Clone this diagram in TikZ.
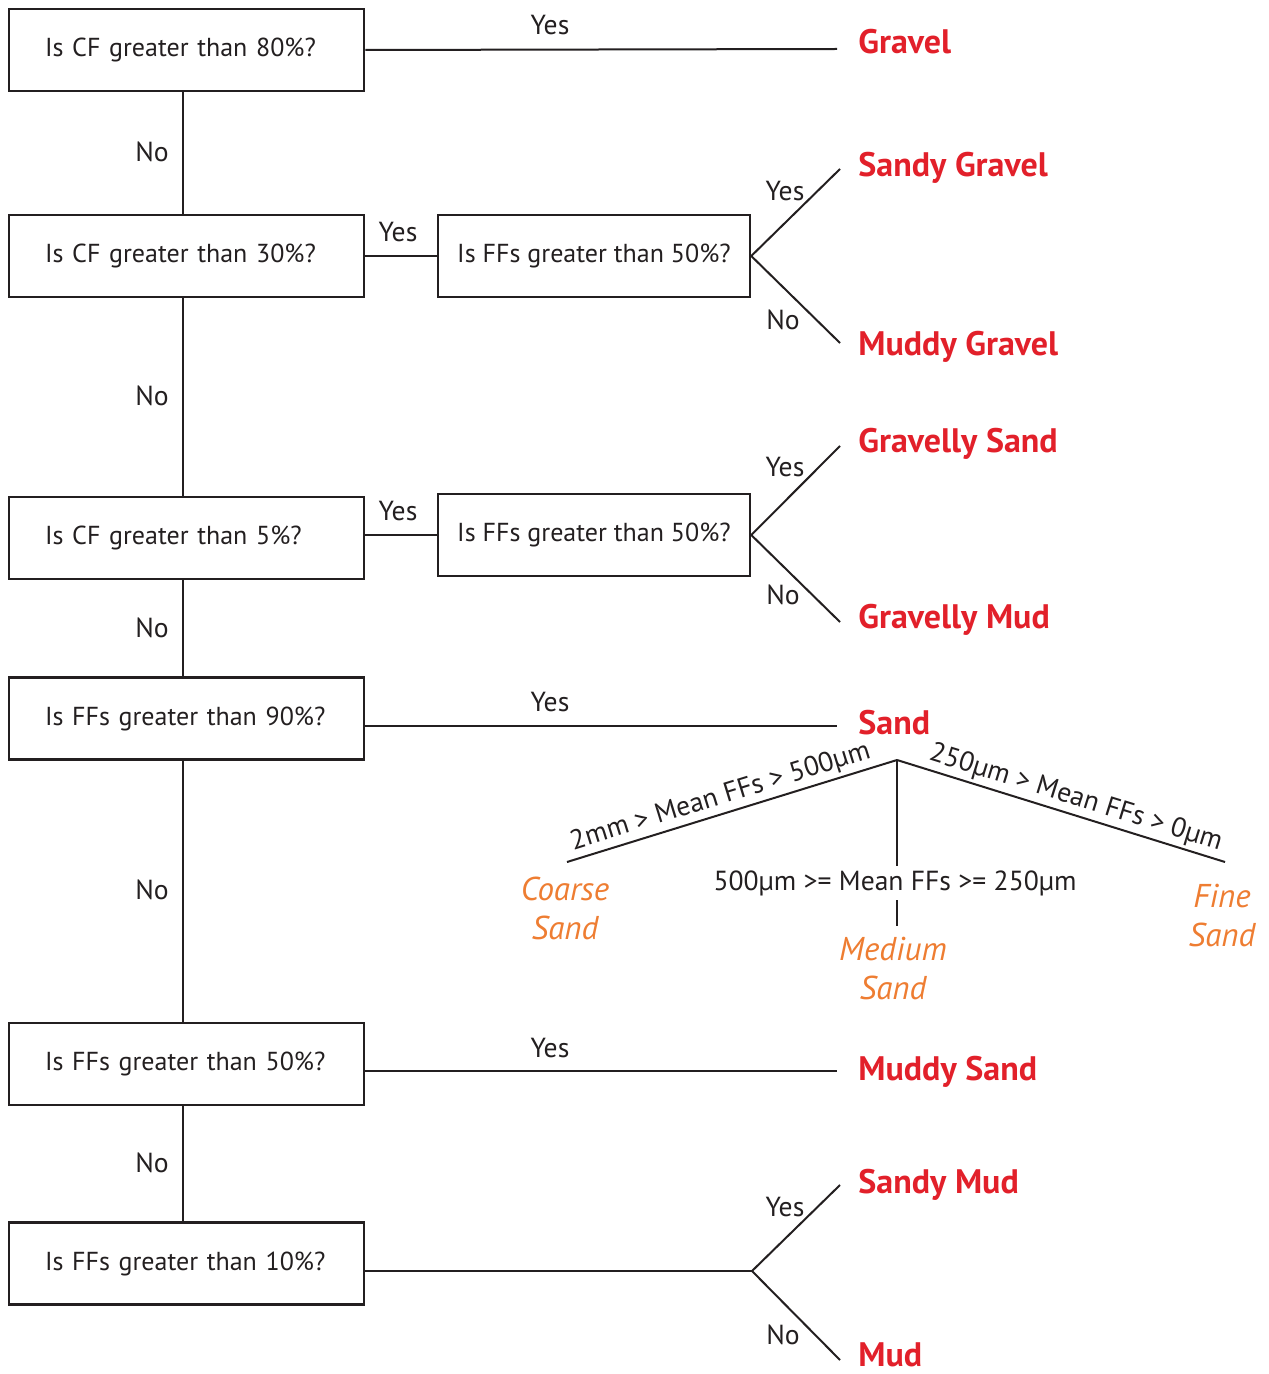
\documentclass[tikz,border=0pt]{standalone}
\usepackage{fontspec}
\setmainfont{PT Sans}
\definecolor{resred}{HTML}{E2202A}
\definecolor{resorange}{HTML}{EE7D32}
\definecolor{ink}{HTML}{231F20}
\tikzset{
  qbox/.style={draw=ink, line width=1.25pt, minimum width=177.5pt, minimum height=41pt,
    inner xsep=18pt, text width=141.5pt, align=left, text=ink, font=\fontsize{13}{15}\selectfont},
  rbox/.style={draw=ink, line width=1.25pt, minimum width=156pt, minimum height=41pt,
    inner sep=0pt, text=ink, font=\fontsize{13}{15}\selectfont},
  conn/.style={draw=ink, line width=1pt},
  lbl/.style={text=ink, font=\fontsize{13.8}{16}\selectfont, inner sep=1pt},
  res/.style={text=resred, font=\bfseries\fontsize{17}{19}\selectfont, anchor=base west, inner sep=0pt},
  sub/.style={text=resorange, font=\itshape\fontsize{16.5}{19.5}\selectfont, align=center, inner sep=0pt},
}
\begin{document}
\begin{tikzpicture}[x=0.5pt,y=-0.5pt]
\useasboundingbox (0,0) rectangle (1268,1374);

% question boxes
\node[qbox] (q1) at (186.5,50)   {Is CF greater than 80\%?};
\node[qbox] (q2) at (186.5,256)  {Is CF greater than 30\%?};
\node[qbox] (q3) at (186.5,538)  {Is CF greater than 5\%?};
\node[qbox] (q4) at (186.5,718.5){Is FFs greater than 90\%?};
\node[qbox] (q5) at (186.5,1064) {Is FFs greater than 50\%?};
\node[qbox] (q6) at (186.5,1263.5){Is FFs greater than 10\%?};
\node[rbox] (r2) at (594,256) {Is FFs greater than 50\%?};
\node[rbox] (r3) at (594,535) {Is FFs greater than 50\%?};

% results
\node[res] (gravel)  at (858,54)  {Gravel};
\node[res] (sgravel) at (858,177) {Sandy Gravel};
\node[res] (mgravel) at (858,355) {Muddy Gravel};
\node[res] (gsand)   at (858,452) {Gravelly Sand};
\node[res] (gmud)    at (858,628) {Gravelly Mud};
\node[res] (sand)    at (858,734) {Sand};
\node[res] (msand)   at (858,1080){Muddy Sand};
\node[res] (smud)    at (858,1193){Sandy Mud};
\node[res] (mud)     at (858,1366){Mud};

% free ends
\coordinate (e1) at (837,49);
\coordinate (e4) at (837,726);
\coordinate (e5) at (837,1071);
\coordinate (t6) at (752,1271);
\coordinate (t2a) at (840,169);
\coordinate (t2b) at (840,343);
\coordinate (t3a) at (840,446);
\coordinate (t3b) at (840,622);
\coordinate (t6a) at (840,1185);
\coordinate (t6b) at (840,1360);
\coordinate (apex) at (897,760);
\coordinate (cl) at (567,862);
\coordinate (cr) at (1225,862);
\coordinate (cm1) at (897,866);
\coordinate (cm2) at (897,900);
\coordinate (cm3) at (897,926);

% vertical chain
\draw[conn] ([xshift=-1.75pt]q1.south) -- ([xshift=-1.75pt]q2.north);
\draw[conn] ([xshift=-1.75pt]q2.south) -- ([xshift=-1.75pt]q3.north);
\draw[conn] ([xshift=-1.75pt]q3.south) -- ([xshift=-1.75pt]q4.north);
\draw[conn] ([xshift=-1.75pt]q4.south) -- ([xshift=-1.75pt]q5.north);
\draw[conn] ([xshift=-1.75pt]q5.south) -- ([xshift=-1.75pt]q6.north);

% horizontal connectors
\draw[conn] (q1.east) -- (e1);
\draw[conn] ([yshift=-3.75pt]q4.east) -- (e4);
\draw[conn] ([yshift=-3.5pt]q5.east) -- (e5);
\draw[conn] (q2.east) -- (r2.west);
\draw[conn] ([yshift=1.5pt]q3.east) -- (r3.west);
\draw[conn] ([yshift=-3.75pt]q6.east) -- (t6);

% forks
\draw[conn] (t2a) -- (r2.east) -- (t2b);
\draw[conn] (t3a) -- (r3.east) -- (t3b);
\draw[conn] (t6a) -- (t6) -- (t6b);

% sand subtree
\draw[conn] (cl) -- node[lbl, sloped, above, pos=0.48, yshift=0.5pt] {2mm > Mean FFs > 500µm} (apex);
\draw[conn] (apex) -- node[lbl, sloped, above, pos=0.53, yshift=0.5pt] {250µm > Mean FFs > 0µm} (cr);
\draw[conn] (apex) -- (cm1);
\node[lbl] (mt) at (895,883) {500µm >= Mean FFs >= 250µm};
\draw[conn] (cm2) -- (cm3);
\node[sub] (coarse) at (565,908)  {Coarse\\Sand};
\node[sub] (medium) at (893,969)  {Medium\\Sand};
\node[sub] (fine)   at (1222,916) {Fine\\Sand};

% yes / no labels
\node[lbl] (y1) at (550,25)  {Yes};
\node[lbl] (y2) at (398,232) {Yes};
\node[lbl] (y3) at (398,511) {Yes};
\node[lbl] (y4) at (550,702) {Yes};
\node[lbl] (y5) at (550,1048){Yes};
\node[lbl] (y2a) at (785,191) {Yes};
\node[lbl] (n2a) at (783,320) {No};
\node[lbl] (y3a) at (785,467) {Yes};
\node[lbl] (n3a) at (783,595) {No};
\node[lbl] (y6a) at (785,1207){Yes};
\node[lbl] (n6a) at (783,1335){No};
\node[lbl] (n1) at (152,152) {No};
\node[lbl] (n2) at (152,396) {No};
\node[lbl] (n3) at (152,628) {No};
\node[lbl] (n4) at (152,890) {No};
\node[lbl] (n5) at (152,1163){No};
\end{tikzpicture}
\end{document}
